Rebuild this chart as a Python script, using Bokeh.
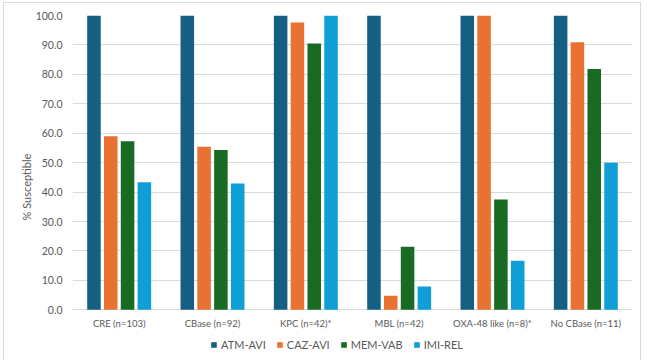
from bokeh.plotting import figure
from bokeh.models import (ColumnDataSource, FactorRange, NumeralTickFormatter,
                          Legend, LegendItem, InlineStyleSheet)
from bokeh.core.properties import value
from bokeh.transform import dodge
from bokeh.embed import file_html
from bokeh.resources import INLINE

# Percent susceptible by isolate group and agent
groups = ["CRE (n=103)", "CBase (n=92)", "KPC (n=42)*", "MBL (n=42)",
          "OXA-48 like (n=8)*", "No CBase (n=11)"]
atm_avi = [100.0, 100.0, 100.0, 100.0, 100.0, 100.0]
caz_avi = [59.0, 55.4, 97.6, 4.8, 100.0, 90.9]
mem_vab = [57.3, 54.3, 90.5, 21.4, 37.5, 81.8]
imi_rel = [43.3, 42.9, 100.0, 7.9, 16.7, 50.0]

series = ["ATM-AVI", "CAZ-AVI", "MEM-VAB", "IMI-REL"]
colors = ["#156082", "#E97132", "#196B24", "#0F9ED5"]

FONT = "Lato"
GREY = "#595959"

src = ColumnDataSource(dict(group=groups, atm=atm_avi, caz=caz_avi,
                            mem=mem_vab, imi=imi_rel))

# the frame runs below zero so the category names and legend sit inside it
p = figure(width=650, height=360, output_backend="svg", toolbar_location=None,
           x_range=FactorRange(factors=groups, range_padding=0),
           y_range=(-16.55, 100),
           min_border_left=72, min_border_right=18,
           min_border_top=15, min_border_bottom=2)

# thin grey frame around the whole chart
p.stylesheets = [InlineStyleSheet(css=""":host::after {
  content: ""; position: absolute; left: 3px; top: 2px;
  width: 638px; height: 370px; border: 1px solid #d9d9d9;
  pointer-events: none; box-sizing: border-box;
}""")]

p.outline_line_color = None
p.background_fill_color = "white"
p.border_fill_color = "white"

bw = 0.145
offs = [-0.27, -0.09, 0.09, 0.27]
renderers = []
for key, off, col in zip(["atm", "caz", "mem", "imi"], offs, colors):
    r = p.vbar(x=dodge("group", off, range=p.x_range), top=key, width=bw,
               source=src, fill_color=col, line_color=None)
    renderers.append(r)

p.xgrid.grid_line_color = None
p.ygrid.grid_line_color = "#d9d9d9"
p.ygrid.grid_line_width = 1

p.yaxis.formatter = NumeralTickFormatter(format="0.0")
p.yaxis.ticker = list(range(0, 101, 10))
p.yaxis.axis_line_color = None
p.yaxis.major_tick_line_color = None
p.yaxis.minor_tick_line_color = None
p.yaxis.major_label_standoff = 4
p.yaxis.major_label_text_font = FONT
p.yaxis.major_label_text_font_size = "10.5px"
p.yaxis.major_label_text_color = GREY
p.yaxis.axis_label = "% Susceptible"
p.yaxis.axis_label_text_font = FONT
p.yaxis.axis_label_text_font_size = "11px"
p.yaxis.axis_label_text_font_style = "normal"
p.yaxis.axis_label_text_color = GREY
p.yaxis.axis_label_standoff = 0

p.xaxis.visible = False

# category names under each group
p.text(x="group", y=-4.5, text="group", source=src,
       text_align="center", text_baseline="middle",
       text_font=value(FONT), text_font_size="9.5px", text_color=GREY)

legend = Legend(items=[LegendItem(label=s, renderers=[r])
                       for s, r in zip(series, renderers)],
                orientation="horizontal", location=(138, 7),
                border_line_color=None, background_fill_alpha=0,
                glyph_width=7, glyph_height=7, spacing=10,
                label_standoff=4, padding=2, margin=0,
                label_text_font=FONT, label_text_font_size="11px",
                label_text_color=GREY)
p.add_layout(legend, "center")

open("out.html", "w").write(file_html(p, INLINE))
